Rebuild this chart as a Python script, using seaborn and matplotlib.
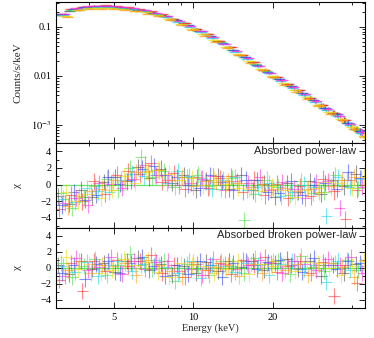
import matplotlib
matplotlib.use("Agg")
import numpy as np
import pandas as pd
import seaborn as sns
import matplotlib.pyplot as plt
from matplotlib.ticker import FixedLocator, NullFormatter, MultipleLocator

# data groups (one per spectrum) and their colours
groups = ["black", "red", "green", "blue", "cyan", "magenta", "yellow", "orange"]
colors = ["#444444", "#ff2a2a", "#3ee03e", "#2a3cff", "#10d8e8", "#ff28d8", "#ecdc00", "#ff9c10"]

# bin energies (keV)
e_black = [3.05, 3.37, 3.73, 4.12, 4.56, 5.04, 5.57, 6.16, 6.80, 7.52, 8.32, 9.19, 10.2, 11.2, 12.4, 13.7, 15.2, 16.8, 18.5, 20.5, 22.7, 25.1, 27.7, 30.6, 33.9, 37.4, 41.4]
e_red = [3.09, 3.41, 3.78, 4.17, 4.62, 5.10, 5.64, 6.24, 6.89, 7.61, 8.42, 9.30, 10.3, 11.4, 12.6, 13.9, 15.4, 17.0, 18.7, 20.8, 23.0, 25.4, 28.0, 31.0, 34.3, 37.9, 41.9]
e_green = [3.13, 3.45, 3.82, 4.22, 4.67, 5.17, 5.71, 6.31, 6.97, 7.71, 8.53, 9.42, 10.4, 11.5, 12.7, 14.0, 15.6, 17.2, 19.0, 21.0, 23.3, 25.7, 28.4, 31.4, 34.7, 38.3, 42.4]
e_blue = [3.16, 3.50, 3.87, 4.27, 4.73, 5.23, 5.78, 6.39, 7.05, 7.80, 8.63, 9.53, 10.6, 11.6, 12.9, 14.2, 15.8, 17.4, 19.2, 21.3, 23.6, 26.0, 28.7, 31.7, 35.2, 38.8, 42.9]
e_cyan = [3.20, 3.54, 3.92, 4.33, 4.79, 5.29, 5.85, 6.47, 7.14, 7.90, 8.74, 9.65, 10.7, 11.8, 13.0, 14.4, 16.0, 17.6, 19.4, 21.5, 23.8, 26.4, 29.1, 32.1, 35.6, 39.3, 43.5]
e_magenta = [3.24, 3.58, 3.96, 4.38, 4.84, 5.35, 5.92, 6.54, 7.23, 7.99, 8.84, 9.76, 10.8, 11.9, 13.2, 14.6, 16.2, 17.9, 19.7, 21.8, 24.1, 26.7, 29.4, 32.5, 36.0, 39.7, 44.0]
e_yellow = [3.28, 3.62, 4.01, 4.43, 4.90, 5.42, 5.99, 6.62, 7.31, 8.08, 8.94, 9.88, 10.9, 12.0, 13.3, 14.8, 16.3, 18.1, 19.9, 22.0, 24.4, 27.0, 29.8, 32.9, 36.4, 40.2, 44.5]
e_orange = [3.32, 3.67, 4.06, 4.48, 4.96, 5.48, 6.06, 6.69, 7.40, 8.18, 9.05, 9.99, 11.1, 12.2, 13.5, 14.9, 16.5, 18.3, 20.1, 22.3, 24.7, 27.3, 30.1, 33.3, 36.9, 40.7, 45.0]

# counts/s/keV
c_black = [0.176, 0.214, 0.241, 0.256, 0.259, 0.251, 0.239, 0.223, 0.199, 0.176, 0.144, 0.118, 0.0895, 0.0705, 0.0518, 0.0382, 0.0268, 0.0191, 0.0134, 0.0096, 0.0067, 0.00505, 0.00358, 0.00252, 0.00178, 0.00127, 0.00084]
c_red = [0.183, 0.229, 0.256, 0.267, 0.272, 0.262, 0.251, 0.229, 0.208, 0.181, 0.147, 0.120, 0.0908, 0.0712, 0.0522, 0.0386, 0.0270, 0.0194, 0.0135, 0.00962, 0.00683, 0.00508, 0.00357, 0.00255, 0.00179, 0.00128, 0.00083]
c_green = [0.172, 0.219, 0.240, 0.254, 0.253, 0.247, 0.232, 0.215, 0.190, 0.167, 0.135, 0.109, 0.0840, 0.0642, 0.0480, 0.0345, 0.0248, 0.0171, 0.0124, 0.00860, 0.00628, 0.00455, 0.00329, 0.00226, 0.00166, 0.00111, 0.00078]
c_blue = [0.179, 0.226, 0.252, 0.262, 0.260, 0.254, 0.236, 0.219, 0.195, 0.166, 0.137, 0.108, 0.0838, 0.0638, 0.0476, 0.0341, 0.0245, 0.0170, 0.0122, 0.00855, 0.00621, 0.00450, 0.00324, 0.00224, 0.00165, 0.00110, 0.00076]
c_cyan = [0.171, 0.222, 0.243, 0.250, 0.251, 0.240, 0.227, 0.206, 0.185, 0.157, 0.128, 0.100, 0.0778, 0.0590, 0.0440, 0.0314, 0.0225, 0.0156, 0.0113, 0.00785, 0.00576, 0.00412, 0.00298, 0.00206, 0.00152, 0.00101, 0.00070]
c_magenta = [0.185, 0.238, 0.263, 0.268, 0.269, 0.255, 0.241, 0.218, 0.195, 0.164, 0.134, 0.104, 0.0810, 0.0610, 0.0455, 0.0322, 0.0232, 0.0160, 0.0116, 0.00808, 0.00594, 0.00425, 0.00305, 0.00212, 0.00156, 0.00103, 0.00072]
c_yellow = [0.165, 0.221, 0.237, 0.245, 0.240, 0.231, 0.214, 0.197, 0.172, 0.147, 0.116, 0.0920, 0.0702, 0.0538, 0.0390, 0.0284, 0.0198, 0.0141, 0.0099, 0.00710, 0.00510, 0.00375, 0.00260, 0.00188, 0.00133, 0.00091, 0.00061]
c_orange = [0.160, 0.216, 0.233, 0.236, 0.234, 0.221, 0.207, 0.186, 0.165, 0.138, 0.111, 0.0855, 0.0664, 0.0498, 0.0368, 0.0261, 0.0186, 0.0129, 0.00928, 0.00650, 0.00480, 0.00343, 0.00244, 0.00171, 0.00125, 0.00082, 0.00057]

# relative count errors per bin
rel_err = [0.02, 0.02, 0.02, 0.02, 0.02, 0.02, 0.025, 0.025, 0.025, 0.03, 0.03, 0.03, 0.035, 0.035, 0.04, 0.04, 0.045, 0.05, 0.055, 0.06, 0.07, 0.08, 0.09, 0.10, 0.12, 0.14, 0.16]

# residuals, absorbed power-law
pl_black = [-1.4, -2.3, -0.6, -1.5, 0.3, 0.9, 0.4, 2.1, 0.8, 1.9, 0.2, 1.1, -0.6, 0.5, 1.0, -0.5, 1.1, -0.7, 0.1, -1.5, 0.2, -0.9, 0.4, -1.1, 0.6, -0.2, 1.3]
pl_red = [-2.9, -1.2, -2.0, 0.4, -1.1, 1.2, 1.6, 1.3, 2.6, 0.3, 1.4, -0.5, 0.9, -0.4, 0.8, 1.0, -0.9, 0.6, -1.3, 0.1, -1.6, -0.2, -1.4, 0.7, -0.8, -4.2, -0.6]
pl_green = [-1.0, -2.8, -1.5, -0.2, 0.7, -0.6, 2.0, 3.3, 0.9, 1.6, -0.3, 0.9, 1.2, -0.2, -0.5, 0.8, -4.3, -1.1, 0.6, -0.3, -1.2, 0.4, -1.0, -0.9, 1.1, 0.5, -0.4]
pl_blue = [-2.5, -0.9, -1.8, -1.2, 0.9, 0.1, 0.5, 1.9, 2.2, 1.1, 0.9, 0.0, -0.4, 1.1, 0.3, -0.7, 0.6, 0.5, -0.9, -1.0, 0.4, -1.3, -0.1, 0.2, -0.5, 1.5, 0.8]
pl_cyan = [-1.7, -2.1, -0.4, -0.8, -0.9, 0.6, 1.3, 1.0, 1.2, 0.2, 1.6, 1.0, 0.8, -0.5, 0.6, 0.9, -0.6, -0.3, 0.2, -1.4, -0.9, 0.0, -0.3, -3.8, 0.9, -0.3, 0.7]
pl_magenta = [-2.2, -1.6, -2.4, 0.2, 0.1, -0.4, 0.7, 2.4, 1.1, 0.6, -0.1, 0.2, 0.7, 1.0, -0.6, 0.4, 0.2, 0.9, -0.6, 0.3, -0.5, -1.6, 0.3, 0.4, -2.8, 0.6, -0.3]
pl_yellow = [-0.9, -2.0, -1.1, -1.6, -0.6, 1.0, 0.2, 1.5, 1.8, 1.3, 0.5, 0.8, -0.1, 0.6, 0.1, -0.4, -0.5, -0.8, -0.2, -0.7, -1.5, -0.6, -0.4, 0.3, 0.2, -0.4, 0.9]
pl_orange = [-2.6, -1.4, -0.8, -0.5, 0.5, 0.4, 1.5, 1.6, 1.7, 0.6, 0.9, -0.2, 0.4, 0.3, 0.4, 0.2, -0.3, 0.1, -0.5, -0.4, -0.8, -0.5, -0.9, -0.2, 0.5, 0.9, -0.1]

# residuals, absorbed broken power-law
bpl_black = [0.4, -0.8, 0.9, -0.2, 0.6, -0.5, 0.8, 1.2, -0.3, 0.5, -0.9, 0.2, -0.6, 0.7, -0.4, 0.9, 0.1, 0.8, -0.3, 0.6, 1.1, -0.2, 0.9, -1.0, 0.3, -0.7, 0.5]
bpl_red = [-1.5, 0.6, -2.9, 0.8, -0.4, 1.0, 0.2, 0.9, 1.6, -0.7, 0.3, -1.2, 0.5, -0.3, 0.6, -0.8, 1.0, 0.4, 1.3, -0.5, 0.2, 0.8, -0.6, 0.7, -3.5, 0.4, -1.9]
bpl_green = [0.6, -1.2, 0.2, 1.1, -0.9, 0.4, 1.7, 0.3, -0.2, 0.9, -1.6, 0.5, -0.1, -0.9, 0.8, 0.2, -0.6, 1.2, 0.5, 0.9, -0.8, 1.5, 0.1, -0.4, 0.6, 1.0, -0.3]
bpl_blue = [-0.7, 0.3, -1.4, 0.5, 0.9, -0.6, 0.6, 1.4, 0.2, -1.0, 0.4, -0.8, 0.8, 0.3, -1.1, 0.6, 0.9, -0.2, 0.7, 1.0, 0.3, -0.5, 1.2, 0.4, -0.2, 0.8, 0.6]
bpl_cyan = [0.2, -0.5, 0.7, -1.0, 0.3, 0.9, -0.4, 0.5, 1.0, 0.1, -0.7, 0.8, -1.3, 0.4, 0.2, -0.5, 0.6, 0.3, -0.9, 0.5, 0.8, -0.1, 0.4, -1.8, 0.9, -0.3, 0.2]
bpl_magenta = [-1.0, 1.2, -0.3, 0.1, 1.3, -0.8, 0.9, -0.2, 0.7, 0.8, -0.4, -0.1, -0.9, 1.1, 0.5, -0.2, 0.4, 1.0, 0.6, -0.7, 0.9, 0.5, -0.3, 1.1, 0.3, 1.4, -0.6]
bpl_yellow = [1.3, -0.2, 0.5, -0.6, -0.3, 1.1, 0.4, 0.7, -0.5, -1.2, 0.6, 0.3, 0.2, -0.7, -0.2, 0.9, -0.8, 0.5, 0.2, 0.3, -0.4, 0.7, 0.6, 0.0, -0.9, 0.2, 0.8]
bpl_orange = [-0.3, 0.9, -0.6, 0.3, 0.2, 0.6, -0.9, 1.0, 0.4, -0.4, -1.1, 0.7, -0.3, 0.1, 0.4, -1.0, 0.5, -0.6, 0.8, -0.3, 0.5, -0.9, 0.3, 0.6, 0.1, -1.1, 1.0]

energies = [e_black, e_red, e_green, e_blue, e_cyan, e_magenta, e_yellow, e_orange]
counts = [c_black, c_red, c_green, c_blue, c_cyan, c_magenta, c_yellow, c_orange]
res_pl = [pl_black, pl_red, pl_green, pl_blue, pl_cyan, pl_magenta, pl_yellow, pl_orange]
res_bpl = [bpl_black, bpl_red, bpl_green, bpl_blue, bpl_cyan, bpl_magenta, bpl_yellow, bpl_orange]

rows = []
for g, e, c, r1, r2 in zip(groups, energies, counts, res_pl, res_bpl):
    for i in range(len(e)):
        rows.append(dict(group=g, energy=e[i], counts=c[i], rel=rel_err[i], pl=r1[i], bpl=r2[i]))
df = pd.DataFrame(rows)

HALF_BIN = 0.05

sns.set_theme(style="ticks")
plt.rcParams["font.family"] = ["Liberation Serif", "DejaVu Serif"]
plt.rcParams["mathtext.fontset"] = "stix"
plt.rcParams["xtick.direction"] = "in"
plt.rcParams["ytick.direction"] = "in"

fig = plt.figure(figsize=(3.74, 3.38), dpi=100)
left, width = 0.150, 0.826
ax_top = fig.add_axes([left, 0.577, width, 0.417])
ax_pl = fig.add_axes([left, 0.326, width, 0.251], sharex=ax_top)
ax_bpl = fig.add_axes([left, 0.089, width, 0.237], sharex=ax_top)

for g, col in zip(groups, colors):
    sub = df[df.group == g]
    xerr = sub.energy * HALF_BIN
    ax_top.errorbar(sub.energy, sub.counts, xerr=xerr, yerr=sub.counts * sub.rel,
                    fmt="none", ecolor=col, elinewidth=1.0, alpha=0.75)
    ax_pl.errorbar(sub.energy, sub.pl, xerr=xerr, yerr=1.0,
                   fmt="none", ecolor=col, elinewidth=0.8, alpha=0.55)
    ax_bpl.errorbar(sub.energy, sub.bpl, xerr=xerr, yerr=1.0,
                    fmt="none", ecolor=col, elinewidth=0.8, alpha=0.55)

for ax in (ax_pl, ax_bpl):
    ax.axhline(0, color="#3ee03e", lw=0.9, alpha=0.8, zorder=0)

ax_top.set_xscale("log")
ax_top.set_yscale("log")
ax_top.set_xlim(3.0, 45.0)
ax_top.set_ylim(4.3e-4, 0.32)
ax_top.yaxis.set_major_locator(FixedLocator([1e-3, 1e-2, 1e-1]))
ax_top.set_yticklabels(["$10^{-3}$", "0.01", "0.1"])

ax_pl.set_ylim(-5.2, 5.0)
ax_bpl.set_ylim(-5.0, 5.0)

for ax in (ax_top, ax_pl, ax_bpl):
    ax.xaxis.set_major_locator(FixedLocator([5, 10, 20]))
    ax.xaxis.set_minor_locator(FixedLocator([3, 4, 6, 7, 8, 9, 30, 40]))
    ax.xaxis.set_minor_formatter(NullFormatter())
    ax.tick_params(which="both", top=True, right=True, labelsize=7.5, width=0.6, colors="black")
    ax.tick_params(which="major", length=4)
    ax.tick_params(which="minor", length=2)
    for s in ax.spines.values():
        s.set_linewidth(0.8)
        s.set_color("black")
    ax.grid(False)

for ax in (ax_pl, ax_bpl):
    ax.yaxis.set_major_locator(FixedLocator([-4, -2, 0, 2, 4]))
    ax.yaxis.set_minor_locator(MultipleLocator(1))
    ax.set_ylabel("χ", fontsize=8)

ax_top.tick_params(labelbottom=False)
ax_pl.tick_params(labelbottom=False)
ax_bpl.set_xticklabels(["5", "10", "20"])

ax_top.set_ylabel("Counts/s/keV", fontsize=8)
ax_bpl.set_xlabel("Energy (keV)", fontsize=7.5)
for ax in (ax_top, ax_pl, ax_bpl):
    ax.yaxis.set_label_coords(-0.11, 0.5)
ax_bpl.xaxis.set_label_coords(0.5, -0.19)

ax_pl.text(0.972, 0.905, "Absorbed power-law", transform=ax_pl.transAxes,
           ha="right", va="center", fontsize=8, family="Liberation Sans")
ax_bpl.text(0.972, 0.914, "Absorbed broken power-law", transform=ax_bpl.transAxes,
            ha="right", va="center", fontsize=8, family="Liberation Sans")

fig.savefig("out.png", dpi=100)
